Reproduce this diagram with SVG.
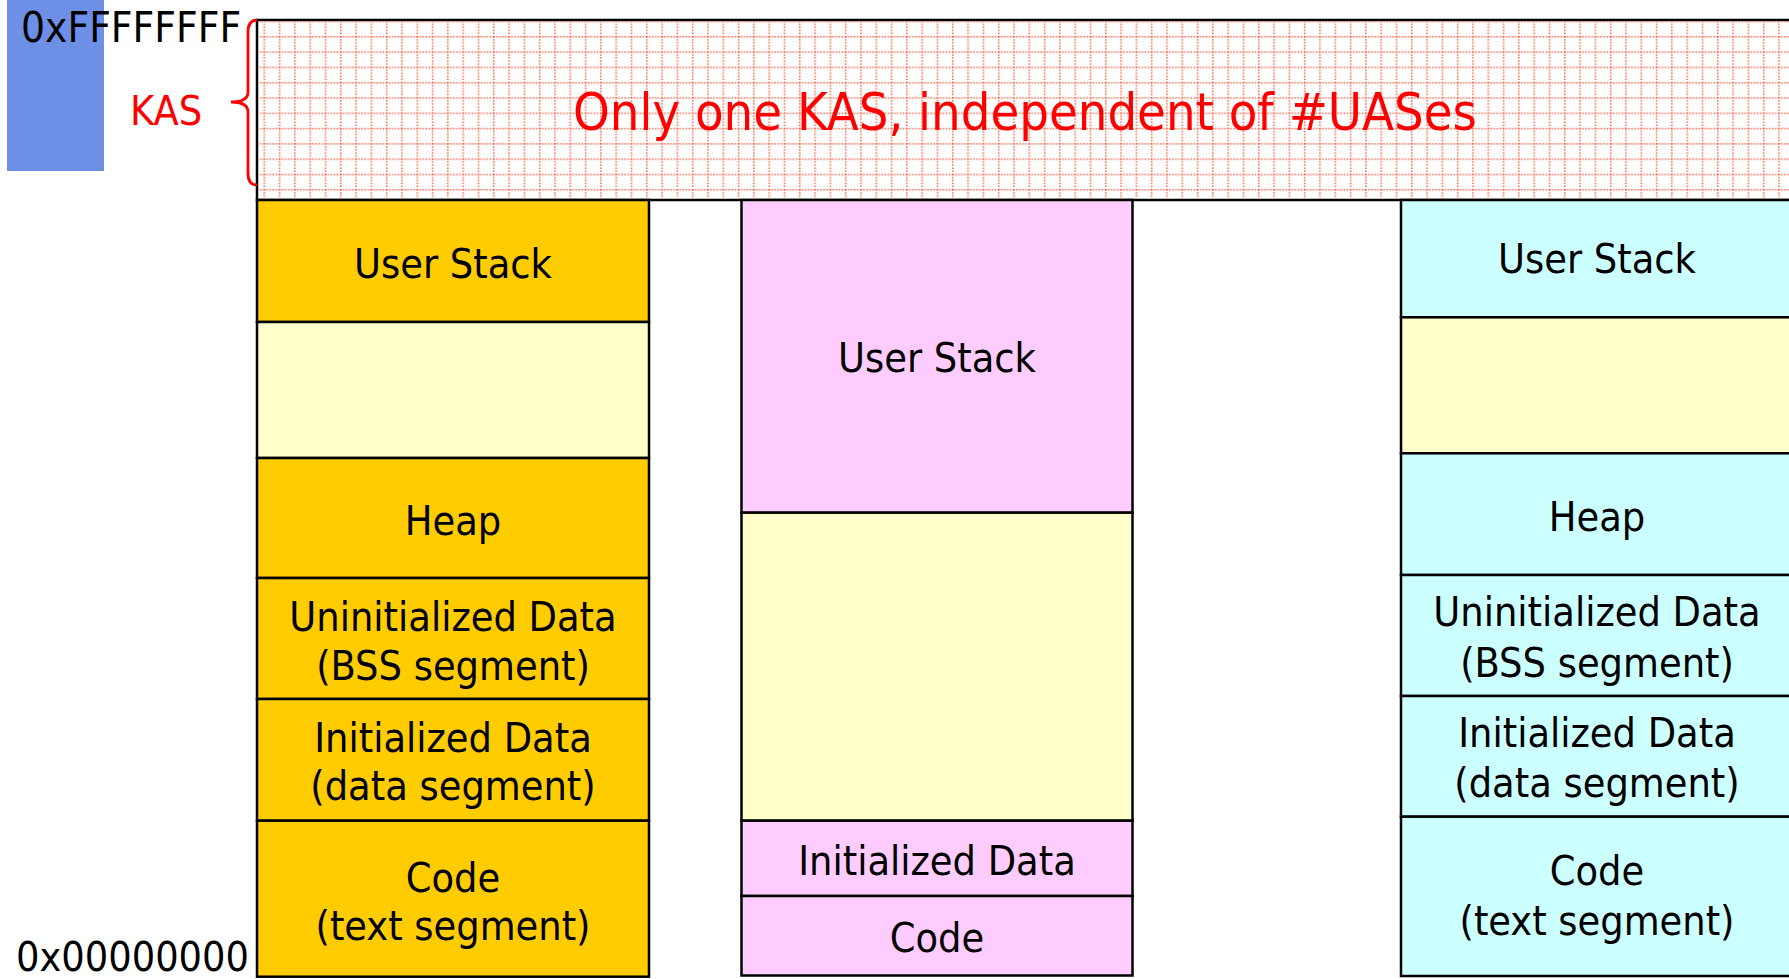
<svg xmlns="http://www.w3.org/2000/svg" width="1789" height="979" viewBox="0 0 1789 979">
<style>
text{font-family:"DejaVu Sans Condensed","DejaVu Sans",sans-serif;font-stretch:condensed;font-size:41px;fill:#000}
.c{text-anchor:middle}
.red{fill:#ff0000}
.seg{stroke:#000;stroke-width:2.5}
.or{fill:#ffcc00}.ye{fill:#ffffcc}.pk{fill:#ffccff}.cy{fill:#ccffff}
.gl{stroke:#ff4422;stroke-width:1.3;stroke-dasharray:1.5 1.5}
</style>
<defs>
<pattern id="grid" patternUnits="userSpaceOnUse" x="263.5" y="36" width="15.3" height="15.3">
<line class="gl" x1="0.8" y1="0" x2="0.8" y2="15.3"/>
<line class="gl" x1="0" y1="0.8" x2="15.3" y2="0.8"/>
</pattern>
</defs>
<rect id="marker-bar" x="7" y="0" width="97" height="171" fill="#6d8fe6"/>
<text x="21" y="41.5" style="font-size:42px">0xFFFFFFFF</text>
<text x="16" y="971">0x00000000</text>
<g id="kas">
<rect x="257" y="20" width="1545" height="180" fill="#fff" stroke="#000" stroke-width="2.5"/>
<rect x="258.5" y="21.5" width="1540" height="177" fill="url(#grid)"/>
<text class="c red" x="1025" y="130" style="font-size:52px">Only one KAS, independent of #UASes</text>
</g>
<g id="kas-label">
<path d="M257,20 Q248,20 248,32 L248,92 Q248,102 231,102 Q248,102 248,112 L248,173 Q248,185 257,185" fill="none" stroke="#ff0000" stroke-width="2.8"/>
<text class="red" x="130" y="125">KAS</text>
</g>
<g id="uas1">
<g id="uas1-stack"><rect class="seg or" x="257" y="200" width="392" height="122"/><text class="c" x="453" y="278">User Stack</text></g>
<g id="uas1-free"><rect class="seg ye" x="257" y="322" width="392" height="136"/></g>
<g id="uas1-heap"><rect class="seg or" x="257" y="458" width="392" height="120"/><text class="c" x="453" y="535">Heap</text></g>
<g id="uas1-bss"><rect class="seg or" x="257" y="578" width="392" height="121"/><text class="c" x="453" y="631">Uninitialized Data</text><text class="c" x="453" y="680">(BSS segment)</text></g>
<g id="uas1-data"><rect class="seg or" x="257" y="699" width="392" height="121.7"/><text class="c" x="453" y="751.5">Initialized Data</text><text class="c" x="453" y="800">(data segment)</text></g>
<g id="uas1-code"><rect class="seg or" x="257" y="820.7" width="392" height="156"/><text class="c" x="453" y="891.5">Code</text><text class="c" x="453" y="940">(text segment)</text></g>
</g>
<g id="uas2">
<g id="uas2-stack"><rect class="seg pk" x="741.5" y="200" width="391" height="312.7"/><text class="c" x="937" y="371.5">User Stack</text></g>
<g id="uas2-free"><rect class="seg ye" x="741.5" y="512.7" width="391" height="308"/></g>
<g id="uas2-data"><rect class="seg pk" x="741.5" y="820.7" width="391" height="75.3"/><text class="c" x="937" y="875">Initialized Data</text></g>
<g id="uas2-code"><rect class="seg pk" x="741.5" y="896" width="391" height="79.5"/><text class="c" x="937" y="951.5">Code</text></g>
</g>
<g id="uas3">
<g id="uas3-stack"><rect class="seg cy" x="1401" y="200" width="392" height="117.3"/><text class="c" x="1597" y="273.3">User Stack</text></g>
<g id="uas3-free"><rect class="seg ye" x="1401" y="317.3" width="392" height="136"/></g>
<g id="uas3-heap"><rect class="seg cy" x="1401" y="453.3" width="392" height="121.7"/><text class="c" x="1597" y="530.7">Heap</text></g>
<g id="uas3-bss"><rect class="seg cy" x="1401" y="575" width="392" height="121"/><text class="c" x="1597" y="626">Uninitialized Data</text><text class="c" x="1597" y="677">(BSS segment)</text></g>
<g id="uas3-data"><rect class="seg cy" x="1401" y="696" width="392" height="120.7"/><text class="c" x="1597" y="746.7">Initialized Data</text><text class="c" x="1597" y="796.7">(data segment)</text></g>
<g id="uas3-code"><rect class="seg cy" x="1401" y="816.7" width="392" height="159.3"/><text class="c" x="1597" y="885">Code</text><text class="c" x="1597" y="935">(text segment)</text></g>
</g>
<g id="connectors"/>
</svg>
